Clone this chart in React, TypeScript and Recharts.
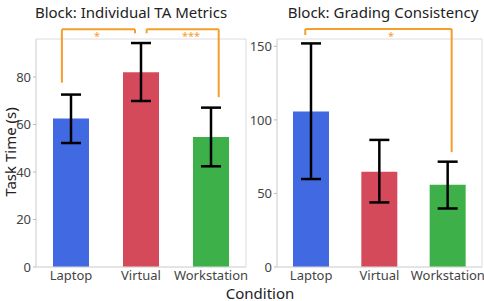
import * as React from "react";
import {
  BarChart,
  Bar,
  Cell,
  XAxis,
  YAxis,
  ErrorBar,
  ReferenceLine,
  ReferenceArea,
  ReferenceDot,
} from "recharts";

const conditions = ["Laptop", "Virtual", "Workstation"];
const colors = ["#4169e1", "#d44a5b", "#3db04a"];

const taMeans = [62.5, 82.0, 54.7];
const taLows = [52.2, 69.9, 42.4];
const taHighs = [72.6, 94.3, 67.1];

const gradingMeans = [105.7, 64.8, 55.9];
const gradingLows = [59.8, 43.9, 39.8];
const gradingHighs = [152.0, 86.4, 71.6];

const taTicks = [0, 20, 40, 60, 80];
const gradingTicks = [0, 50, 100, 150];

const ORANGE = "#f59e2a";
const FONT = "'Noto Sans', sans-serif";

function buildRows(means: number[], lows: number[], highs: number[]) {
  return means.map((m, i) => ({
    idx: i,
    name: conditions[i],
    mean: m,
    err: [m - lows[i], highs[i] - m],
  }));
}

type Bracket = { x1: number; y1: number; x2: number; y2: number; top: number };

function Star({ cx, cy, text }: any) {
  return (
    <text
      x={cx}
      y={cy + 7}
      textAnchor="middle"
      fontSize={11}
      fill={ORANGE}
      fontFamily={FONT}
    >
      {text}
    </text>
  );
}

function Panel({
  means,
  lows,
  highs,
  ticks,
  yMax,
  brackets,
  stars,
  width,
}: {
  means: number[];
  lows: number[];
  highs: number[];
  ticks: number[];
  yMax: number;
  brackets: Bracket[];
  stars: { x: number; y: number; text: string }[];
  width: number;
}) {
  const rows = buildRows(means, lows, highs);
  return (
    <BarChart
      width={width}
      height={301}
      data={rows}
      margin={{ top: 39, right: 2, bottom: 0, left: 0 }}
    >
      <ReferenceArea
        x1={-0.5}
        x2={2.5}
        y1={0}
        y2={yMax}
        fill="none"
        stroke="#dcdcdc"
        strokeWidth={1}
        ifOverflow="visible"
      />
      <XAxis
        dataKey="idx"
        type="number"
        domain={[-0.5, 2.5]}
        ticks={[0, 1, 2]}
        tickFormatter={(v: number) => conditions[v]}
        height={34}
        tickLine={false}
        tickSize={4}
        tickMargin={0}
        axisLine={{ stroke: "#dcdcdc" }}
        tick={{ fill: "#444", fontSize: 13, fontFamily: FONT }}
        interval={0}
      />
      <YAxis
        type="number"
        domain={[0, yMax]}
        ticks={ticks}
        width={36}
        tickSize={3}
        tickMargin={2}
        axisLine={{ stroke: "#dcdcdc" }}
        tickLine={{ stroke: "#bbb" }}
        tick={{ fill: "#444", fontSize: 13, fontFamily: FONT }}
      />
      <Bar dataKey="mean" barSize={36} isAnimationActive={false}>
        {rows.map((r, i) => (
          <Cell key={r.name} fill={colors[i]} />
        ))}
        <ErrorBar
          dataKey="err"
          width={10}
          stroke="#000"
          strokeWidth={2.5}
          isAnimationActive={false}
        />
      </Bar>
      {brackets.map((b, i) => (
        <React.Fragment key={i}>
          <ReferenceLine
            segment={[
              { x: b.x1, y: b.y1 },
              { x: b.x1, y: b.top },
            ]}
            stroke={ORANGE}
            strokeWidth={2}
            ifOverflow="visible"
          />
          <ReferenceLine
            segment={[
              { x: b.x1, y: b.top },
              { x: b.x2, y: b.top },
            ]}
            stroke={ORANGE}
            strokeWidth={2}
            ifOverflow="visible"
          />
          <ReferenceLine
            segment={[
              { x: b.x2, y: b.top },
              { x: b.x2, y: b.y2 },
            ]}
            stroke={ORANGE}
            strokeWidth={2}
            ifOverflow="visible"
          />
        </React.Fragment>
      ))}
      {stars.map((s, i) => (
        <ReferenceDot
          key={i}
          x={s.x}
          y={s.y}
          r={0}
          ifOverflow="visible"
          shape={(p: any) => <Star cx={p.cx} cy={p.cy} text={s.text} />}
        />
      ))}
    </BarChart>
  );
}

export default function App() {
  return (
    <div
      style={{
        position: "absolute",
        left: 0,
        top: 0,
        width: 484,
        height: 301,
        background: "#fff",
        fontFamily: FONT,
        overflow: "hidden",
      }}
    >
      <div style={{ position: "absolute", left: 0, top: 0 }}>
        <Panel
          means={taMeans}
          lows={taLows}
          highs={taHighs}
          ticks={taTicks}
          yMax={96}
          width={248}
          brackets={[
            { x1: -0.13, y1: 77.6, x2: 0.914, y2: 98.4, top: 100.1 },
            { x1: 1.08, y1: 98.4, x2: 2.11, y2: 71.5, top: 100.1 },
          ]}
          stars={[
            { x: 0.372, y: 98.4, text: "*" },
            { x: 1.715, y: 98.4, text: "***" },
          ]}
        />
      </div>
      <div style={{ position: "absolute", left: 241, top: 0 }}>
        <Panel
          means={gradingMeans}
          lows={gradingLows}
          highs={gradingHighs}
          ticks={gradingTicks}
          yMax={155}
          width={243}
          brackets={[
            { x1: -0.086, y1: 157.7, x2: 2.056, y2: 78.1, top: 161.8 },
          ]}
          stars={[{ x: 1.168, y: 159.2, text: "*" }]}
        />
      </div>
      <div
        style={{
          position: "absolute",
          left: 0,
          top: 2,
          width: 262,
          textAlign: "center",
          fontSize: 15,
          color: "#222",
        }}
      >
        Block: Individual TA Metrics
      </div>
      <div
        style={{
          position: "absolute",
          left: 282,
          top: 2,
          width: 202,
          textAlign: "center",
          fontSize: 15,
          color: "#222",
        }}
      >
        Block: Grading Consistency
      </div>
      <div
        style={{
          position: "absolute",
          left: 10,
          top: 152,
          transform: "translate(-50%, -50%) rotate(-90deg)",
          whiteSpace: "nowrap",
          fontSize: 15,
          lineHeight: "16px",
          color: "#222",
        }}
      >
        Task Time (s)
      </div>
      <div
        style={{
          position: "absolute",
          left: 260,
          top: 293,
          transform: "translate(-50%, -50%)",
          whiteSpace: "nowrap",
          fontSize: 15,
          lineHeight: "15px",
          color: "#222",
        }}
      >
        Condition
      </div>
    </div>
  );
}
